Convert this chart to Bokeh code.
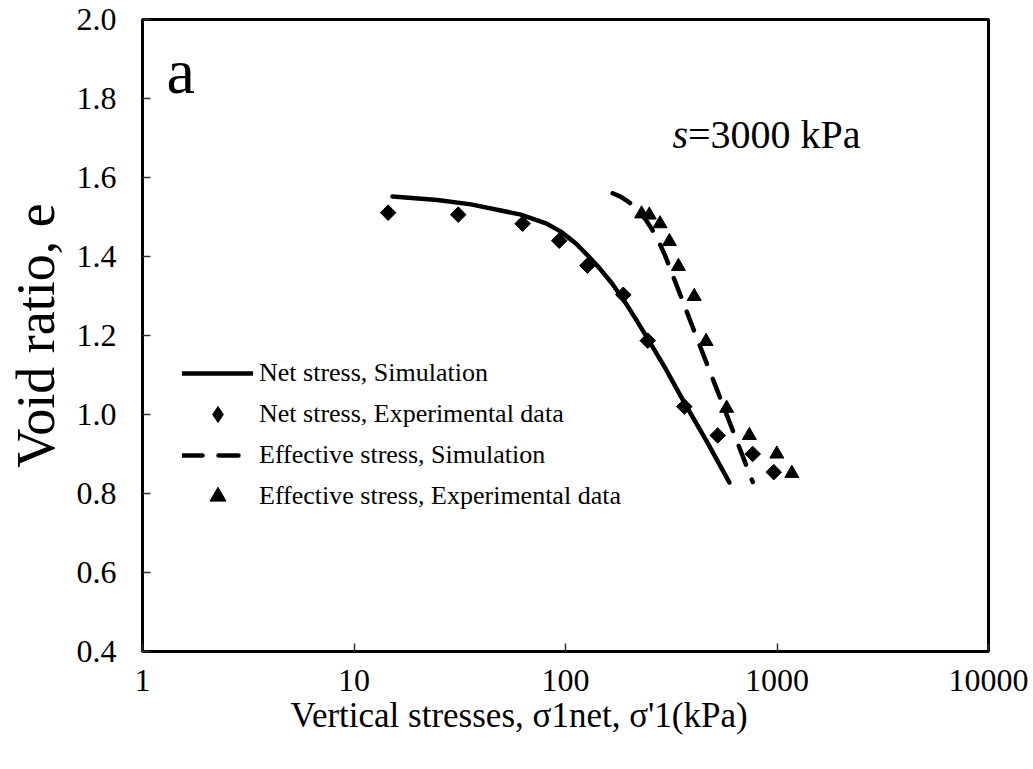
import math
from bokeh.plotting import figure
from bokeh.models import FixedTicker, PrintfTickFormatter, Label, Legend, LegendItem, Title
from bokeh.embed import file_html
from bokeh.resources import INLINE

# ---- data ----
net_sim_x = [15.2, 24.8, 35.7, 61.5, 80.8, 95.1, 112.0, 127.2, 145.0, 165.3, 188.4, 214.7, 244.6,
             298.7, 364.6, 465.4, 595.2]
net_sim_y = [1.552, 1.543, 1.532, 1.506, 1.484, 1.463, 1.433, 1.403, 1.370, 1.333, 1.290, 1.242, 1.192,
             1.114, 1.030, 0.932, 0.828]

net_exp_x = [14.5, 31.1, 62.7, 93.4, 127, 187.6, 244.9, 364.6, 524.5, 767.6, 965.5]
net_exp_y = [1.511, 1.506, 1.483, 1.440, 1.377, 1.303, 1.187, 1.020, 0.947, 0.900, 0.854]

eff_sim_x = [167.1, 182.9, 200.2, 217.8, 235.0, 253.6, 273.7, 295.4, 322.3, 351.7, 399.5, 453.3,
             524.7, 628.6, 768.1]
eff_sim_y = [1.560, 1.551, 1.537, 1.520, 1.500, 1.473, 1.442, 1.403, 1.351, 1.298, 1.221, 1.145,
             1.058, 0.949, 0.829]

eff_exp_x = [229, 249, 280, 310, 342, 406, 462, 578, 740, 998, 1175]
eff_exp_y = [1.508, 1.505, 1.483, 1.438, 1.375, 1.299, 1.185, 1.016, 0.947, 0.900, 0.851]

x_ticks = [1, 10, 100, 1000, 10000]
y_ticks = [0.4, 0.6, 0.8, 1.0, 1.2, 1.4, 1.6, 1.8, 2.0]

legend_labels = ["Net stress, Simulation", "Net stress, Experimental data",
                 "Effective stress, Simulation", "Effective stress, Experimental data"]
x_title = "Vertical stresses, σ1net, σ'1(kPa)"
y_title = "Void ratio, e"

FONT = "Liberation Serif"

p = figure(width=1033, height=769, x_axis_type="log", x_range=(1, 10000), y_range=(0.4, 2.0),
           output_backend="svg", toolbar_location=None, title=None,
           min_border_left=142, min_border_right=45, min_border_top=19, min_border_bottom=118)
p.grid.visible = False
p.outline_line_color = "black"
p.outline_line_width = 3
p.background_fill_color = "white"
p.border_fill_color = "white"

p.xaxis[0].ticker = FixedTicker(ticks=x_ticks, minor_ticks=[])
p.xaxis[0].formatter = PrintfTickFormatter(format="%d")
p.yaxis[0].ticker = FixedTicker(ticks=y_ticks, minor_ticks=[])
p.yaxis[0].formatter = PrintfTickFormatter(format="%.1f")

for ax in (p.xaxis[0], p.yaxis[0]):
    ax.axis_line_color = None
    ax.major_tick_in = 8
    ax.major_tick_out = 0
    ax.minor_tick_in = 0
    ax.minor_tick_out = 0
    ax.major_tick_line_color = "#333333"
    ax.major_tick_line_width = 1.5
    ax.major_label_text_font = FONT
    ax.major_label_text_font_size = "32px"
    ax.major_label_text_color = "black"
p.xaxis[0].major_label_standoff = 18
p.yaxis[0].major_label_standoff = 26

p.yaxis[0].axis_label = y_title
p.yaxis[0].axis_label_text_font = FONT
p.yaxis[0].axis_label_text_font_size = "54px"
p.yaxis[0].axis_label_text_font_style = "normal"
p.yaxis[0].axis_label_text_color = "black"
p.yaxis[0].axis_label_standoff = 8

p.add_layout(Title(text=x_title, align="left", offset=148, standoff=0,
                   text_font=FONT, text_font_size="35px", text_font_style="normal",
                   text_color="black"), "below")

r1 = p.line(net_sim_x, net_sim_y, line_width=4.5, line_color="black", line_cap="round", line_join="round")
# diamond-shaped swatch for the legend; sits fully underneath the rotated squares below
r2_leg = p.scatter(net_exp_x, net_exp_y, marker="diamond", size=14, fill_color="black", line_color="black")
r2 = p.scatter(net_exp_x, net_exp_y, marker="square", size=11, angle=math.pi / 4,
               fill_color="black", line_color="black")
r3 = p.line(eff_sim_x, eff_sim_y, line_width=4.5, line_color="black", line_dash="20 16",
            line_cap="round", line_join="round")
r4 = p.scatter(eff_exp_x, eff_exp_y, marker="triangle", size=14, fill_color="black", line_color="black")

legend = Legend(items=[LegendItem(label=legend_labels[0], renderers=[r1]),
                       LegendItem(label=legend_labels[1], renderers=[r2_leg]),
                       LegendItem(label=legend_labels[2], renderers=[r3]),
                       LegendItem(label=legend_labels[3], renderers=[r4])],
                location=(40, 135), padding=0, margin=0, spacing=1,
                glyph_width=71, glyph_height=40, label_height=40, label_standoff=6,
                label_text_font=FONT, label_text_font_size="26px", label_text_color="black",
                border_line_color=None, background_fill_alpha=0)
p.add_layout(legend)

def lab(x, y, text, size, style="normal"):
    p.add_layout(Label(x=x, y=y, x_units="screen", y_units="screen", text=text,
                       text_font=FONT, text_font_size=f"{size}px", text_font_style=style,
                       text_color="black", text_align="left", text_baseline="alphabetic"))

# panel letter and suction annotation (frame-relative screen px)
lab(24, 580, "a", 64)
lab(530, 517, "s", 40, "italic")
lab(530 + 0.389 * 40, 517, "=3000 kPa", 40)

open("out.html", "w").write(file_html(p, INLINE))
